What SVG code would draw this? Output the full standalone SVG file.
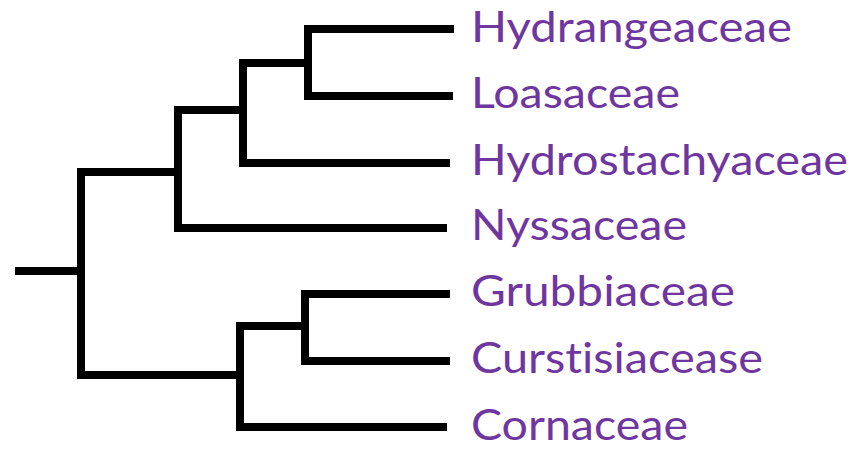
<svg xmlns="http://www.w3.org/2000/svg" width="862" height="450" viewBox="0 0 862 450">
<style>
.br{fill:none;stroke:#000;stroke-width:8;stroke-linecap:butt;stroke-linejoin:miter}
.lb{font-family:Lato,"Open Sans","Liberation Sans",sans-serif;font-size:42px;fill:#7036A0;font-variant-ligatures:none}
</style>
<rect width="862" height="450" fill="#fff"/>
<g id="connectors" class="br">
<path d="M15,271 H81"/>
<path d="M81,168 V379"/>
<path d="M77,172 H178"/>
<path d="M77,375 H240"/>
<path d="M178,106 V232"/>
<path d="M174,110 H243"/>
<path d="M174,228 H447"/>
<path d="M243,59 V167"/>
<path d="M239,63 H308"/>
<path d="M239,163 H450"/>
<path d="M308,25 V100"/>
<path d="M304,29 H454"/>
<path d="M304,96 H453"/>
<path d="M240,322 V431"/>
<path d="M236,326 H305"/>
<path d="M236,427 H447"/>
<path d="M305,290 V365"/>
<path d="M301,294 H450"/>
<path d="M301,361 H450"/>
</g>
<g id="n-hydrangeaceae"><text class="lb" x="471" y="42" textLength="321" lengthAdjust="spacingAndGlyphs">Hydrangeaceae</text></g>
<g id="n-loasaceae"><text class="lb" x="471" y="108" textLength="209" lengthAdjust="spacingAndGlyphs">Loasaceae</text></g>
<g id="n-hydrostachyaceae"><text class="lb" x="471" y="175" textLength="377" lengthAdjust="spacingAndGlyphs">Hydrostachyaceae</text></g>
<g id="n-nyssaceae"><text class="lb" x="471" y="240" textLength="216" lengthAdjust="spacingAndGlyphs">Nyssaceae</text></g>
<g id="n-grubbiaceae"><text class="lb" x="471" y="306" textLength="264" lengthAdjust="spacingAndGlyphs">Grubbiaceae</text></g>
<g id="n-curstisiacease"><text class="lb" x="471" y="373" textLength="292" lengthAdjust="spacingAndGlyphs">Curstisiacease</text></g>
<g id="n-cornaceae"><text class="lb" x="471" y="440" textLength="217" lengthAdjust="spacingAndGlyphs">Cornaceae</text></g>
</svg>
